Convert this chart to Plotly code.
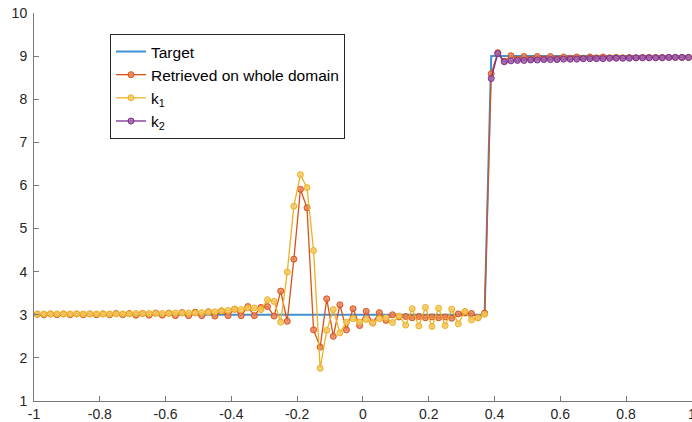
import plotly.graph_objects as go

# grid: cell midpoints on [-1, 1]
x = [round(-0.99 + 0.02 * i, 2) for i in range(100)]

target = [3] * 69 + [9] * 31

retrieved = [
    3.01, 3.00, 3.02, 3.00, 3.02, 3.00, 3.02, 3.00, 3.02, 3.00,
    3.02, 3.00, 3.03, 3.00, 3.03, 2.99, 3.03, 2.99, 3.04, 2.99,
    3.04, 2.98, 3.05, 2.98, 3.06, 2.98, 3.07, 2.97, 3.09, 2.98,
    3.13, 2.98, 3.19, 2.98, 3.17, 3.19, 2.97, 3.55, 2.85, 4.29,
    5.91, 5.48, 2.65, 2.25, 3.37, 2.50, 3.23, 2.65, 3.14, 2.75,
    3.08, 2.81, 3.05, 2.87, 3.00, 2.95, 2.96, 2.93, 2.96, 2.93,
    2.95, 2.93, 2.95, 2.92, 3.02, 3.04, 3.03, 2.93, 3.04,
    8.59, 9.08, 8.88, 9.01, 8.93, 8.99, 8.93, 8.99, 8.94, 8.99,
    8.94, 8.98, 8.95, 8.98, 8.95, 8.98, 8.96, 8.98, 8.96, 8.97,
    8.96, 8.97, 8.96, 8.97, 8.97, 8.97, 8.97, 8.97, 8.97, 8.97, 8.97,
]

k1_x = x[:69]
k1 = [
    3.02, 3.02, 3.02, 3.02, 3.02, 3.02, 3.02, 3.02, 3.02, 3.02,
    3.02, 3.02, 3.02, 3.02, 3.02, 3.03, 3.03, 3.03, 3.03, 3.03,
    3.03, 3.04, 3.04, 3.04, 3.04, 3.05, 3.06, 3.07, 3.09, 3.10,
    3.13, 3.12, 3.16, 3.16, 3.12, 3.35, 3.31, 2.83, 3.99, 5.52,
    6.25, 5.95, 4.49, 1.76, 2.64, 3.12, 2.58, 2.83, 2.91, 2.83,
    2.89, 2.81, 2.91, 2.93, 2.82, 2.97, 2.76, 3.14, 2.74, 3.17,
    2.73, 3.15, 2.75, 3.13, 2.79, 3.08, 2.88, 2.93, 3.01,
]

k2_x = x[69:]
k2 = [
    8.48, 9.06, 8.87, 8.89, 8.90, 8.90, 8.91, 8.91, 8.92, 8.92,
    8.92, 8.93, 8.93, 8.93, 8.94, 8.94, 8.94, 8.94, 8.95, 8.95,
    8.95, 8.95, 8.96, 8.96, 8.96, 8.96, 8.96, 8.97, 8.97, 8.97, 8.97,
]

xticks = [-1, -0.8, -0.6, -0.4, -0.2, 0, 0.2, 0.4, 0.6, 0.8, 1]
xticktext = ["-1", "-0.8", "-0.6", "-0.4", "-0.2", "0", "0.2", "0.4", "0.6", "0.8", "1"]
yticks = [1, 2, 3, 4, 5, 6, 7, 8, 9, 10]

BLUE = "#3f91d3"
ORANGE = "#D95319"
YELLOW = "#EDB120"
PURPLE = "#7E2F8E"

fig = go.Figure()
fig.add_trace(go.Scatter(x=x, y=target, mode="lines", name="Target",
                         line=dict(color=BLUE, width=2)))
fig.add_trace(go.Scatter(x=x, y=retrieved, mode="lines+markers",
                         name="Retrieved on whole domain",
                         line=dict(color=ORANGE, width=1.3),
                         marker=dict(symbol="circle", size=6,
                                     color="rgba(232,130,90,0.85)",
                                     line=dict(color=ORANGE, width=1))))
fig.add_trace(go.Scatter(x=k1_x, y=k1, mode="lines+markers", name="k<sub>1</sub>",
                         line=dict(color=YELLOW, width=1.3),
                         marker=dict(symbol="circle", size=6,
                                     color="rgba(245,200,100,0.85)",
                                     line=dict(color=YELLOW, width=1))))
fig.add_trace(go.Scatter(x=k2_x, y=k2, mode="lines+markers", name="k<sub>2</sub>",
                         line=dict(color=PURPLE, width=1.3),
                         marker=dict(symbol="circle", size=6,
                                     color="rgba(160,100,175,0.85)",
                                     line=dict(color=PURPLE, width=1))))

axis_common = dict(showline=True, linecolor="#777777", linewidth=1,
                   ticks="inside", ticklen=5, tickcolor="#777777",
                   showgrid=False, zeroline=False, automargin=False,
                   tickfont=dict(family="Liberation Sans", size=14, color="#262626"))

fig.update_layout(
    width=692, height=422,
    margin=dict(l=34, r=0, t=13, b=21),
    paper_bgcolor="white", plot_bgcolor="white",
    xaxis=dict(range=[-1, 1.0005], tickvals=xticks, ticktext=xticktext,
               ticklabeloverflow="allow", **axis_common),
    yaxis=dict(range=[1, 10], tickvals=yticks, ticklabelstandoff=3, **axis_common),
    legend=dict(x=0.1155, y=0.946, xanchor="left", yanchor="top",
                bgcolor="white", bordercolor="#262626", borderwidth=1,
                font=dict(family="Liberation Sans", size=15.5, color="#000000"),
                tracegroupgap=0, itemwidth=30),
    showlegend=True,
)

fig.write_html(
    "out.html",
    config={"displayModeBar": False},
    post_script="document.body.style.margin='0';document.body.style.overflow='hidden';",
)
